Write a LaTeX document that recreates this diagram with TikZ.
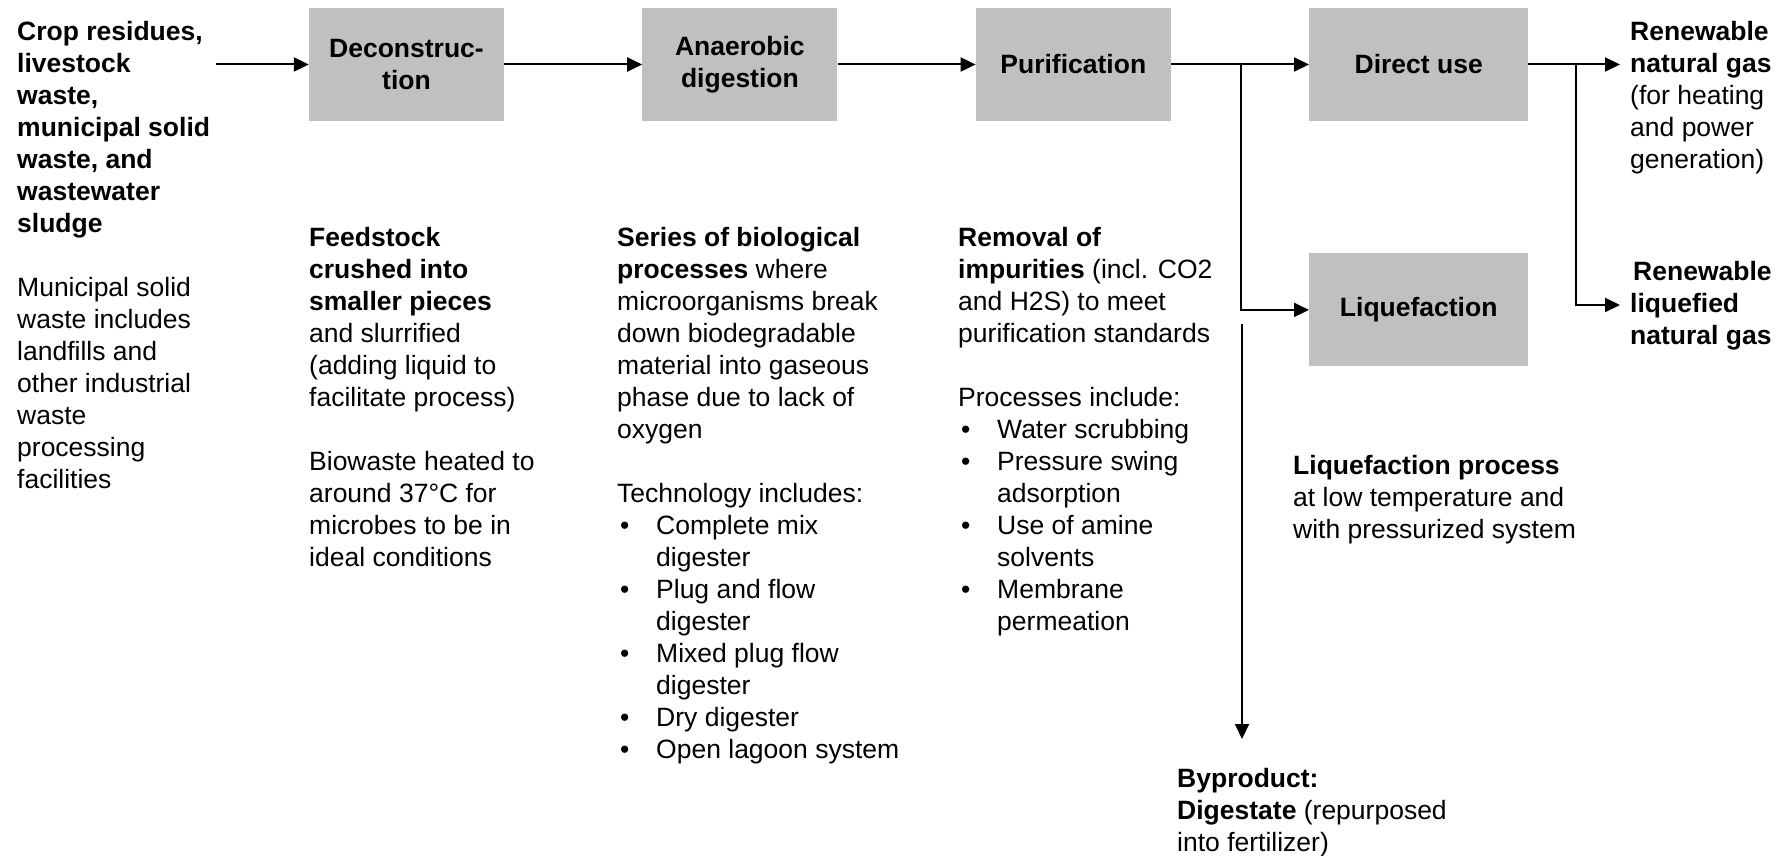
\documentclass[tikz,border=0pt]{standalone}
\usepackage{fontspec}
\setmainfont{Liberation Sans}
\usetikzlibrary{positioning,arrows.meta}

\definecolor{boxgray}{RGB}{192,192,192}
\newcommand{\bodysize}{\fontsize{26.5}{32}\selectfont}
% bullet and hanging indent for the lists
\newcommand{\listdot}{\makebox[39pt][l]{\hspace{3pt}\textbullet}}
\newcommand{\listgap}{\hspace*{39pt}}

\begin{document}
\begin{tikzpicture}[
        x=1pt, y=-1pt,
        >={Triangle[length=15pt,width=14pt]},
        % Styles
        stage/.style={rectangle, fill=boxgray, minimum width=195pt, minimum height=113pt, align=center, inner sep=2pt, font=\bodysize\bfseries},
        note/.style={anchor=north west, inner sep=0pt, align=left, font=\bodysize},
        flow/.style={line width=2pt, ->}
    ]
    \useasboundingbox (0,0) rectangle (1783,856);

    % ================= PROCESS CHAIN =================
    \node[stage] (decon) at (406.5,64.5) {Deconstruc-\\tion};
    \node[stage, right=138pt of decon] (anaer) {Anaerobic\\digestion};
    \node[stage, right=138pt of anaer] (purif) {Purification};
    \node[stage, minimum width=219pt, right=138pt of purif] (direct) {Direct use};
    \node[stage, minimum width=219pt, below=132pt of direct] (liquef) {Liquefaction};

    % free ends and branch points
    \coordinate (src) at (216,64.5);
    \coordinate (split) at (1241,64.5);
    \coordinate (join) at (1576,64.5);
    \coordinate (rngout) at (1620,64.5);
    \coordinate (lngout) at (1620,305);
    \coordinate (digtop) at (1242,324);
    \coordinate (digend) at (1242,739);

    % Connections
    \draw[flow] (src) -- (decon);
    \foreach \a/\b in {decon/anaer, anaer/purif, purif/direct} {
        \draw[flow] (\a) -- (\b);
    }
    \draw[flow] (split) |- (liquef);
    \draw[flow] (direct) -- (rngout);
    \draw[flow] (join) |- (lngout);
    \draw[flow] (digtop) -- (digend);

    % ================= NOTES =================
    \node[note] (feedin) at (17,21) {\textbf{Crop residues,}\\\textbf{livestock}\\\textbf{waste,}\\\textbf{municipal solid}\\\textbf{waste, and}\\\textbf{wastewater}\\\textbf{sludge}\\[32pt]
        Municipal solid\\waste includes\\landfills and\\other industrial\\waste\\processing\\facilities};

    \node[note] (decnote) at (309,227) {\textbf{Feedstock}\\\textbf{crushed into}\\\textbf{smaller pieces}\\and slurrified\\(adding liquid to\\facilitate process)\\[32pt]
        Biowaste heated to\\around 37°C for\\microbes to be in\\ideal conditions};

    \node[note] (adnote) at (617,227) {\textbf{Series of biological}\\\textbf{processes} where\\microorganisms break\\down biodegradable\\material into gaseous\\phase due to lack of\\oxygen\\[32pt]
        Technology includes:\\\listdot Complete mix\\\listgap digester\\\listdot Plug and flow\\\listgap digester\\\listdot Mixed plug flow\\\listgap digester\\\listdot Dry digester\\\listdot Open lagoon system};

    \node[note] (purnote) at (958,227) {\textbf{Removal of}\\\textbf{impurities} (incl. CO2\\and H2S) to meet\\purification standards\\[32pt]
        Processes include:\\\listdot Water scrubbing\\\listdot Pressure swing\\\listgap adsorption\\\listdot Use of amine\\\listgap solvents\\\listdot Membrane\\\listgap permeation};

    \node[note] (liqnote) at (1293,455) {\textbf{Liquefaction process}\\at low temperature and\\with pressurized system};

    \node[note] (bynote) at (1177,768) {\textbf{Byproduct:}\\\textbf{Digestate} (repurposed\\into fertilizer)};

    % outputs
    \node[note] (rng) at (1630,21) {\textbf{Renewable}\\\textbf{natural gas}\\(for heating\\and power\\generation)};
    \node[note] (lng) at (1630,261) {\textbf{\hspace*{3pt}Renewable}\\\textbf{liquefied}\\\textbf{natural gas}};

\end{tikzpicture}
\end{document}
